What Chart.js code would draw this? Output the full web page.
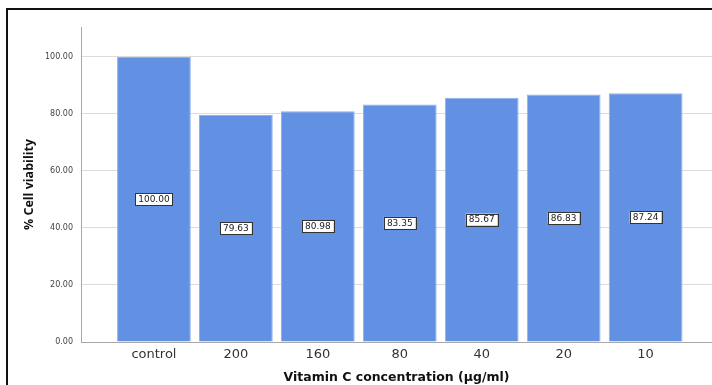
<!DOCTYPE html>
<html lang="en">
<head>
    <meta charset="UTF-8">
    <title>Cell viability - Vitamin C</title>
    <style>
        body {
            margin: 0;
            width: 712px;
            height: 385px;
            overflow: hidden;
            background: white;
            position: relative;
        }
        .frame {
            position: absolute;
            left: 6px;
            top: 8px;
            width: 730px;
            height: 400px;
            border: 2px solid #111;
        }
        .chart-container {
            position: absolute;
            left: 0;
            top: 0;
            width: 712px;
            height: 385px;
        }
    </style>
</head>
<body>
    <div class="frame"></div>
    <div class="chart-container">
        <canvas id="viabilityChart"></canvas>
    </div>

    <script src="https://cdn.jsdelivr.net/npm/chart.js"></script>
    <script>
        // concentrations (µg/ml) and mean % cell viability
        const categories = ['control', '200', '160', '80', '40', '20', '10'];
        const viability = [100.00, 79.63, 80.98, 83.35, 85.67, 86.83, 87.24];
        const yTicks = [0, 20, 40, 60, 80, 100];

        // white value boxes in the middle of each bar
        const valueBoxes = {
            id: 'valueBoxes',
            afterDatasetsDraw(chart) {
                const ctx = chart.ctx;
                const meta = chart.getDatasetMeta(0);
                ctx.save();
                ctx.font = '9px "DejaVu Sans", sans-serif';
                ctx.textAlign = 'center';
                ctx.textBaseline = 'middle';
                meta.data.forEach((bar, i) => {
                    const text = viability[i].toFixed(2);
                    const cy = (bar.y + bar.base) / 2;
                    const w = ctx.measureText(text).width + 6;
                    const h = 12;
                    ctx.fillStyle = '#fff';
                    ctx.fillRect(bar.x - w / 2, cy - h / 2, w, h);
                    ctx.strokeStyle = '#333';
                    ctx.lineWidth = 1;
                    ctx.strokeRect(Math.round(bar.x - w / 2) + 0.5, Math.round(cy - h / 2) + 0.5, Math.round(w), h);
                    ctx.fillStyle = '#222';
                    ctx.fillText(text, bar.x, cy + 0.5);
                });
                ctx.restore();
            }
        };

        const ctx = document.getElementById('viabilityChart').getContext('2d');
        new Chart(ctx, {
            type: 'bar',
            data: {
                datasets: [{
                    data: viability.map((v, i) => ({ x: i, y: v })),
                    backgroundColor: '#6291E3',
                    borderColor: '#8fb0ec',
                    borderWidth: 1,
                    barPercentage: 0.9,
                    categoryPercentage: 1
                }]
            },
            options: {
                responsive: true,
                maintainAspectRatio: false,
                animation: false,
                layout: { padding: { top: 27, left: 0, right: 0, bottom: 0 } },
                plugins: {
                    legend: { display: false },
                    tooltip: { enabled: false }
                },
                scales: {
                    x: {
                        type: 'linear',
                        offset: false,
                        min: -0.89,
                        max: 6.81,
                        afterBuildTicks: scale => {
                            scale.ticks = categories.map((c, i) => ({ value: i }));
                        },
                        afterFit: scale => { scale.height = 43; },
                        grid: { display: false, drawTicks: false },
                        border: { color: '#a8a8a8', width: 1 },
                        ticks: {
                            padding: 5,
                            color: '#333',
                            font: { family: '"DejaVu Sans", sans-serif', size: 13 },
                            callback: v => categories[v]
                        },
                        title: {
                            display: true,
                            text: 'Vitamin C concentration (µg/ml)',
                            color: '#111',
                            font: { family: '"DejaVu Sans", sans-serif', size: 12.5, weight: 'bold' },
                            padding: { top: 0, bottom: 0 }
                        }
                    },
                    y: {
                        min: 0,
                        max: 110.5,
                        afterBuildTicks: scale => {
                            scale.ticks = yTicks.map(v => ({ value: v }));
                        },
                        afterFit: scale => { scale.width = 81; },
                        grid: { color: '#dcdcdc', drawTicks: false },
                        border: { color: '#a8a8a8', width: 1 },
                        ticks: {
                            padding: 8,
                            color: '#444',
                            font: { family: '"DejaVu Sans", sans-serif', size: 8 },
                            callback: v => v.toFixed(2)
                        },
                        title: {
                            display: true,
                            text: '% Cell viability',
                            color: '#111',
                            font: { family: '"Open Sans", sans-serif', size: 12.5, weight: 'bold' },
                            padding: { top: 22, bottom: 0 }
                        }
                    }
                }
            },
            plugins: [valueBoxes]
        });
    </script>
</body>
</html>
